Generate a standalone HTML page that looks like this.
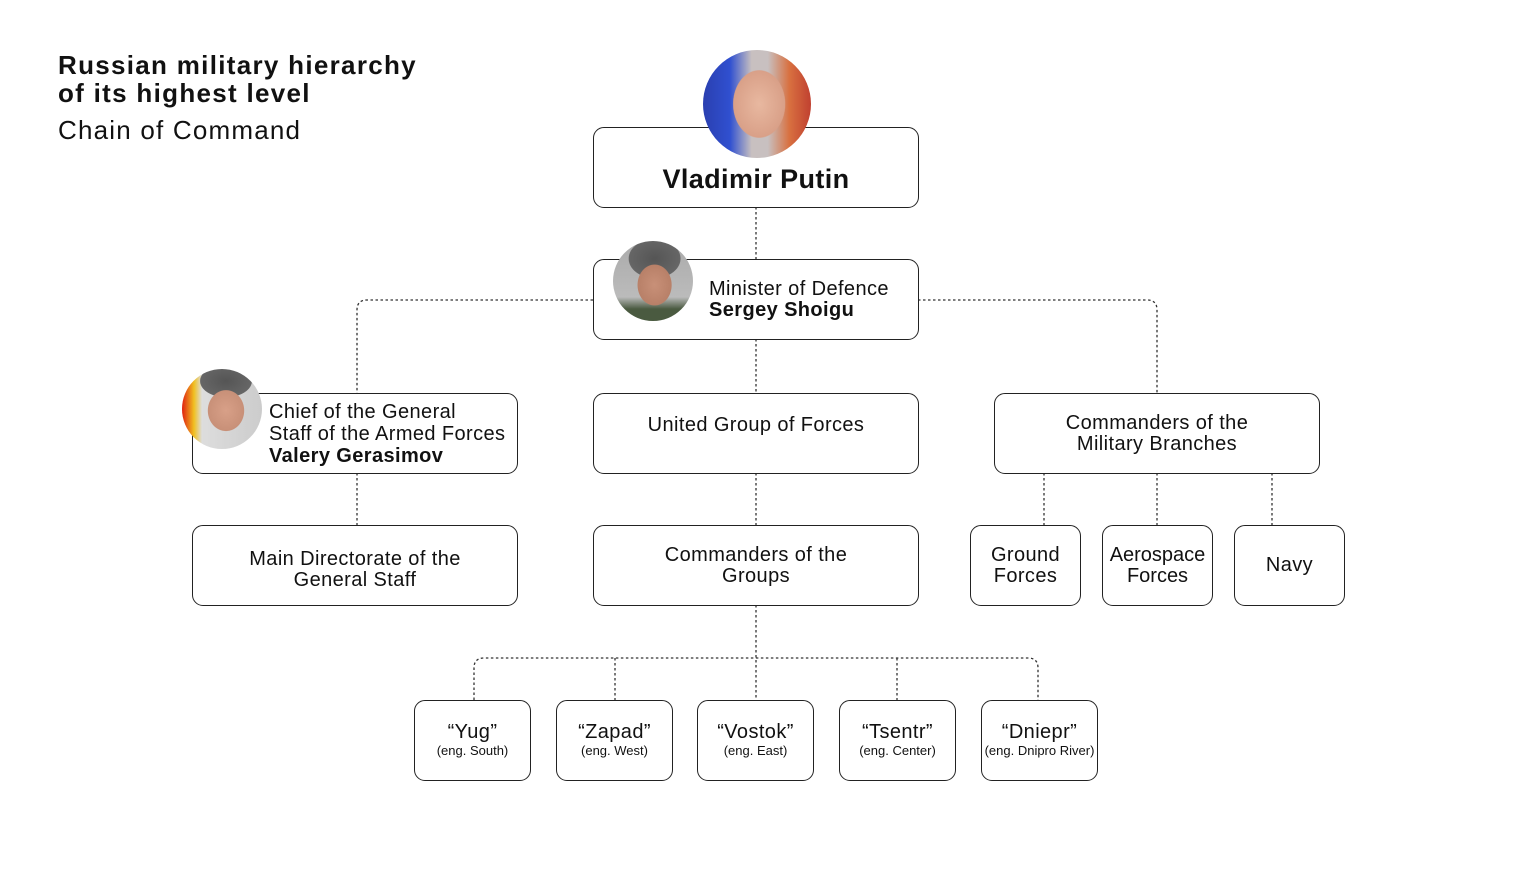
<!DOCTYPE html>
<html><head><meta charset="utf-8"><style>
*{margin:0;padding:0;box-sizing:border-box}
body{width:1536px;height:874px;background:#fff;position:relative;overflow:hidden;font-family:"Liberation Sans",sans-serif;color:#111}
.b{position:absolute;border:1.8px solid #222;border-radius:11px;background:#fff;display:flex;align-items:center;justify-content:center;text-align:center;font-size:20px;line-height:21px;letter-spacing:0.4px}
.s{font-size:13px;line-height:16px;display:block;letter-spacing:0}
.p{position:absolute;border-radius:50%;overflow:hidden}
.t{position:absolute;white-space:nowrap}
</style></head><body>
<svg style="position:absolute;left:0;top:0" width="1536" height="874">
<g fill="none" stroke="#333" stroke-width="1.3" stroke-dasharray="2.5 2.5">
<path d="M756 207V259M756 339V393M756 473V525M756 605V700"/>
<path d="M593 300H367Q357 300 357 310V393M918 300H1147Q1157 300 1157 310V393"/>
<path d="M357 473V525M1044 473V525M1157 473V525M1272 473V525"/>
<path d="M474 700V668Q474 658 484 658H1028Q1038 658 1038 668V700M615 658V700M897 658V700"/>
</g></svg>
<div class="t" style="left:58px;top:51px;font-size:26px;font-weight:bold;line-height:28px;letter-spacing:1.3px">Russian military hierarchy<br>of its highest level</div>
<div class="t" style="left:58px;top:115px;font-size:26px;letter-spacing:1.2px">Chain of Command</div>

<div class="b" style="left:593px;top:127px;width:326px;height:81px;padding-top:24px;font-size:27px;font-weight:bold"><div>Vladimir Putin</div></div>
<div class="p" style="left:703px;top:50px;width:108px;height:108px;background:radial-gradient(ellipse 34% 44% at 52% 50%,#e8b8a0 0,#d9a088 70%,transparent 72%),linear-gradient(90deg,#2a3fb0 0,#3050d0 25%,#c8c0c0 45%,#c8c0c0 60%,#d87040 80%,#c04030 100%)"></div>
<div class="b" style="left:593px;top:259px;width:326px;height:81px;justify-content:flex-start;padding-left:115px;text-align:left"><div>Minister of Defence<br><b>Sergey Shoigu</b></div></div>
<div class="p" style="left:613px;top:241px;width:80px;height:80px;background:radial-gradient(ellipse 30% 36% at 52% 55%,#c89078 0,#b88068 70%,transparent 72%),radial-gradient(ellipse 40% 30% at 52% 22%,#555 0,#666 80%,transparent 82%),linear-gradient(180deg,#aaa 0,#bbb 70%,#4a5a40 85%)"></div>

<div class="b" style="left:192px;top:393px;width:326px;height:81px;justify-content:flex-start;padding-left:76px;text-align:left;line-height:22px"><div style="white-space:nowrap">Chief of the General<br>Staff of the Armed Forces<br><b>Valery Gerasimov</b></div></div>
<div class="p" style="left:182px;top:369px;width:80px;height:80px;background:radial-gradient(ellipse 32% 36% at 55% 52%,#d8a088 0,#c89078 70%,transparent 72%),radial-gradient(ellipse 40% 25% at 55% 15%,#555 0,#666 80%,transparent 82%),linear-gradient(90deg,#e02010 0,#f0c020 15%,#ddd 25%,#ccc 100%)"></div>

<div class="b" style="left:593px;top:393px;width:326px;height:81px;padding-bottom:16px"><div>United Group of Forces</div></div>
<div class="b" style="left:994px;top:393px;width:326px;height:81px"><div>Commanders of the<br>Military Branches</div></div>

<div class="b" style="left:192px;top:525px;width:326px;height:81px;padding-top:8px"><div>Main Directorate of the<br>General Staff</div></div>
<div class="b" style="left:593px;top:525px;width:326px;height:81px"><div>Commanders of the<br>Groups</div></div>
<div class="b" style="left:970px;top:525px;width:111px;height:81px"><div>Ground<br>Forces</div></div>
<div class="b" style="left:1102px;top:525px;width:111px;height:81px;letter-spacing:0"><div>Aerospace<br>Forces</div></div>
<div class="b" style="left:1234px;top:525px;width:111px;height:81px"><div>Navy</div></div>

<div class="b" style="left:414px;top:700px;width:117px;height:81px"><div>“Yug”<span class="s">(eng. South)</span></div></div>
<div class="b" style="left:556px;top:700px;width:117px;height:81px"><div>“Zapad”<span class="s">(eng. West)</span></div></div>
<div class="b" style="left:697px;top:700px;width:117px;height:81px"><div>“Vostok”<span class="s">(eng. East)</span></div></div>
<div class="b" style="left:839px;top:700px;width:117px;height:81px"><div>“Tsentr”<span class="s">(eng. Center)</span></div></div>
<div class="b" style="left:981px;top:700px;width:117px;height:81px"><div style="white-space:nowrap">“Dniepr”<span class="s">(eng. Dnipro River)</span></div></div>
</body></html>
